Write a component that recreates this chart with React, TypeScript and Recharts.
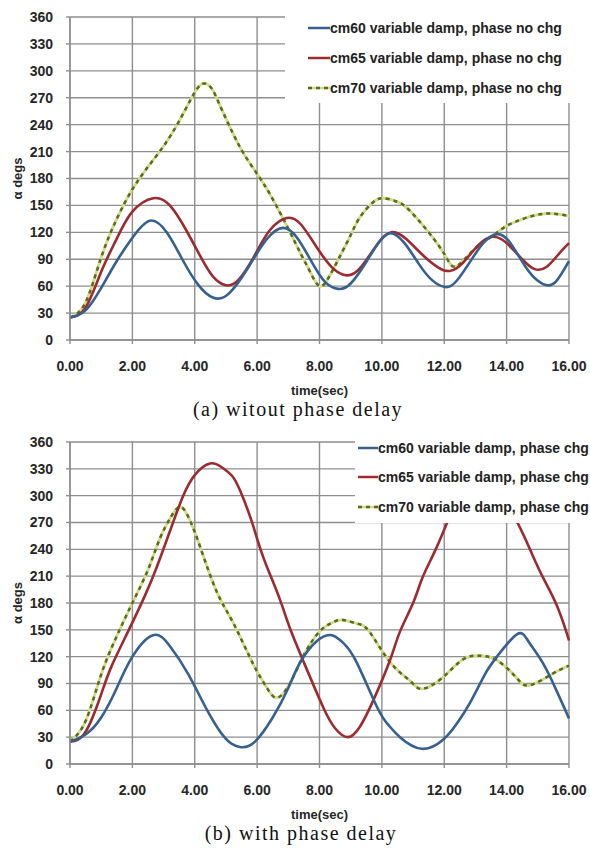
import { LineChart, Line, XAxis, YAxis, CartesianGrid, Legend } from 'recharts'

const timeTicks = [0, 2, 4, 6, 8, 10, 12, 14, 16]
const alphaTicks = [0, 30, 60, 90, 120, 150, 180, 210, 240, 270, 300, 330, 360]

// (a) without phase delay: [time sec, alpha degs]
const cm60NoChg = [
  [0, 25], [0.5, 33], [1, 58], [1.5, 88], [2, 114], [2.56, 133], [3.1, 120], [3.6, 90], [4.1, 62], [4.6, 47],
  [5.1, 52], [5.7, 80], [6.3, 112], [6.84, 125], [7.3, 113], [7.8, 84], [8.2, 64], [8.6, 57], [9.0, 63], [9.5, 87],
  [9.9, 109], [10.26, 119], [10.7, 109], [11.2, 84], [11.6, 67], [12.02, 59], [12.4, 66], [12.9, 91], [13.3, 110],
  [13.7, 118], [14.1, 109], [14.6, 82], [15.0, 66], [15.3, 61], [15.6, 66], [16, 88],
]
const cm65NoChg = [
  [0, 25], [0.5, 36], [1, 76], [1.5, 113], [2, 143], [2.67, 158], [3.2, 150], [3.7, 124], [4.2, 92], [4.6, 70],
  [5.0, 61], [5.4, 67], [5.9, 93], [6.4, 122], [6.95, 136], [7.4, 129], [7.9, 104], [8.4, 81], [8.88, 72], [9.3, 80],
  [9.8, 104], [10.3, 120], [10.8, 112], [11.3, 95], [11.8, 81], [12.18, 77], [12.6, 86], [13.1, 106], [13.56, 115],
  [14.0, 108], [14.5, 90], [14.9, 79], [15.3, 82], [15.7, 97], [16, 108],
]
const cm70NoChg = [
  [0, 25], [0.5, 42], [1, 92], [1.5, 135], [2, 168], [2.5, 193], [3, 216], [3.5, 244], [4.0, 276], [4.3, 286],
  [4.55, 280], [4.8, 262], [5.2, 232], [5.6, 206], [6.1, 180], [6.5, 157], [7.0, 124], [7.4, 96], [7.7, 76], [8.0, 60],
  [8.3, 70], [8.65, 93], [9.0, 117], [9.3, 137], [9.7, 153], [10.03, 158], [10.5, 154], [10.9, 144], [11.5, 120],
  [12.0, 96], [12.28, 82], [12.6, 88], [13.0, 102], [13.5, 115], [13.9, 125], [14.3, 132], [14.8, 138], [15.3, 141],
  [15.7, 140], [16, 138],
]

// (b) with phase delay
const cm60Chg = [
  [0, 25], [0.5, 33], [1, 52], [1.5, 85], [2, 120], [2.66, 144], [3.2, 132], [3.8, 100], [4.4, 60], [5.0, 28],
  [5.45, 19], [5.9, 24], [6.5, 52], [7.0, 85], [7.37, 113], [7.9, 137], [8.4, 144], [8.8, 134], [9.2, 113], [9.84, 64],
  [10.2, 44], [10.58, 30], [11.28, 17], [11.96, 27], [12.4, 45], [12.82, 68], [13.3, 100], [13.69, 120], [14.33, 145],
  [14.7, 137], [15.16, 113], [15.6, 82], [16, 51],
]
const cm65Chg = [
  [0, 25], [0.5, 36], [1, 78], [1.34, 110], [1.86, 148], [2.4, 188], [2.78, 220], [3.2, 260], [3.62, 299], [4.0, 323],
  [4.49, 336], [4.9, 331], [5.2, 322], [5.45, 306], [5.8, 274], [6.09, 242], [6.4, 213], [6.73, 184], [7.05, 152],
  [7.47, 116], [8.11, 64], [8.5, 40], [8.91, 30], [9.3, 42], [9.71, 70], [10.26, 116], [10.58, 148], [11.0, 180],
  [11.31, 209], [11.7, 238], [12.08, 269], [12.5, 300], [13.2, 330], [13.8, 305], [14.36, 269], [14.8, 236],
  [15.16, 209], [15.6, 178], [15.93, 146], [16, 138],
]
const cm70Chg = [
  [0, 25], [0.5, 48], [1, 100], [1.5, 143], [2.0, 180], [2.5, 217], [2.88, 252], [3.25, 277], [3.58, 287], [3.9, 268],
  [4.17, 243], [4.7, 193], [5.23, 158], [5.87, 112], [6.3, 86], [6.63, 74], [7.05, 90], [7.5, 122], [8.0, 148],
  [8.4, 158], [8.75, 161], [9.2, 157], [9.6, 148], [10.26, 114], [10.9, 93], [11.3, 84], [11.96, 97], [12.6, 117],
  [13.14, 121], [13.69, 116], [14.3, 97], [14.74, 88], [15.48, 101], [16, 110],
]

const labelsNoChg = [
  'cm60 variable damp, phase no chg',
  'cm65 variable damp, phase no chg',
  'cm70 variable damp, phase no chg',
]
const labelsChg = [
  'cm60 variable damp, phase chg',
  'cm65 variable damp, phase chg',
  'cm70 variable damp, phase chg',
]

const BLUE = '#36608f'
const RED = '#9c2b30'
const GREEN_LIGHT = '#d2dc86'
const GREEN_DARK = '#5a6a1f'
const GRID = '#8e8e8e'
const TICK_FONT = { fontSize: 14, fontWeight: 700, fill: '#262626', fontFamily: '"Liberation Sans", Arial, sans-serif' }

const toPoints = (pairs: number[][]) => pairs.map(([t, v]) => ({ t, v }))

function LegendBox({ labels, padTop, rowH, padLeft, lineW }: { labels: string[]; padTop: number; rowH: number; padLeft: number; lineW: number }) {
  const colors = [BLUE, RED, null]
  return (
    <div style={{ width: '100%', height: '100%', background: '#fff', paddingTop: padTop, boxSizing: 'border-box' }}>
      {labels.map((label, i) => (
        <div key={label} style={{ display: 'flex', alignItems: 'center', height: rowH, paddingLeft: padLeft }}>
          <svg width={lineW} height={6} style={{ flex: 'none' }}>
            {colors[i] ? (
              <line x1={0} y1={3} x2={lineW} y2={3} stroke={colors[i] as string} strokeWidth={2.5} />
            ) : (
              <>
                <line x1={0} y1={3} x2={lineW} y2={3} stroke={GREEN_LIGHT} strokeWidth={2.5} />
                <line x1={0} y1={3} x2={lineW} y2={3} stroke={GREEN_DARK} strokeWidth={2.5} strokeDasharray="4 4" />
              </>
            )}
          </svg>
          <span style={{ fontFamily: '"Liberation Sans", Arial, sans-serif', fontWeight: 700, fontSize: 14, color: '#222', whiteSpace: 'nowrap' }}>
            {label}
          </span>
        </div>
      ))}
    </div>
  )
}

function AlphaChart({ series, labels, height, legendBox, legendProps }: any) {
  const [s60, s65, s70] = series
  return (
    <LineChart width={590} height={height} margin={{ top: 17, right: 21, bottom: 0, left: 0 }}>
      <CartesianGrid stroke={GRID} strokeWidth={1.4} horizontalValues={alphaTicks} verticalValues={timeTicks} />
      <XAxis
        dataKey="t"
        type="number"
        domain={[0, 16]}
        ticks={timeTicks}
        tickFormatter={(v) => v.toFixed(2)}
        height={62}
        tickSize={4}
        tickMargin={17}
        tick={TICK_FONT}
        stroke={GRID}
        strokeWidth={1.4}
        label={{ value: 'time(sec)', position: 'insideBottom', offset: 7, style: { ...TICK_FONT, fontSize: 13 } }}
      />
      <YAxis
        dataKey="v"
        type="number"
        domain={[0, 360]}
        ticks={alphaTicks}
        width={70}
        tickSize={4}
        tickMargin={13}
        tick={TICK_FONT}
        stroke={GRID}
        strokeWidth={1.4}
        label={{ value: 'α  degs', angle: -90, position: 'insideLeft', offset: 17, style: { ...TICK_FONT, fontSize: 13, textAnchor: 'middle' } }}
      />
      <Legend
        layout="horizontal"
        verticalAlign="middle"
        align="center"
        wrapperStyle={legendBox}
        content={() => <LegendBox labels={labels} {...legendProps} />}
      />
      <Line data={toPoints(s70)} dataKey="v" type="natural" stroke={GREEN_LIGHT} strokeWidth={2.8} dot={false} isAnimationActive={false} />
      <Line data={toPoints(s70)} dataKey="v" type="natural" stroke={GREEN_DARK} strokeWidth={2.5} strokeDasharray="4 4" dot={false} isAnimationActive={false} />
      <Line data={toPoints(s65)} dataKey="v" type="natural" stroke={RED} strokeWidth={2.6} dot={false} isAnimationActive={false} />
      <Line data={toPoints(s60)} dataKey="v" type="natural" stroke={BLUE} strokeWidth={2.6} dot={false} isAnimationActive={false} />
    </LineChart>
  )
}

const captionStyle: React.CSSProperties = {
  position: 'absolute',
  left: 0,
  width: 590,
  height: 20,
  lineHeight: '20px',
  textAlign: 'center',
  fontFamily: '"Liberation Serif", "Times New Roman", serif',
  fontSize: 20,
  letterSpacing: 1.5,
  color: '#111',
}

export default function App() {
  return (
    <div style={{ position: 'absolute', left: 0, top: 0, width: 590, height: 850, background: '#fff', overflow: 'hidden' }}>
      <div style={{ position: 'absolute', left: 0, top: 0 }}>
        <AlphaChart
          series={[cm60NoChg, cm65NoChg, cm70NoChg]}
          labels={labelsNoChg}
          height={402}
          legendBox={{ left: 285, top: 0, width: 305, height: 103 }}
          legendProps={{ padTop: 13, rowH: 30, padLeft: 23, lineW: 22 }}
        />
      </div>
      <div style={{ ...captionStyle, top: 399, paddingLeft: 6, boxSizing: 'border-box' }}>(a) witout phase delay</div>
      <div style={{ position: 'absolute', left: 0, top: 425 }}>
        <AlphaChart
          series={[cm60Chg, cm65Chg, cm70Chg]}
          labels={labelsChg}
          height={401}
          legendBox={{ left: 355, top: 8, width: 235, height: 90 }}
          legendProps={{ padTop: 0, rowH: 29.5, padLeft: 3, lineW: 20 }}
        />
      </div>
      <div style={{ ...captionStyle, top: 823, paddingLeft: 12, boxSizing: 'border-box' }}>(b) with phase delay</div>
    </div>
  )
}
